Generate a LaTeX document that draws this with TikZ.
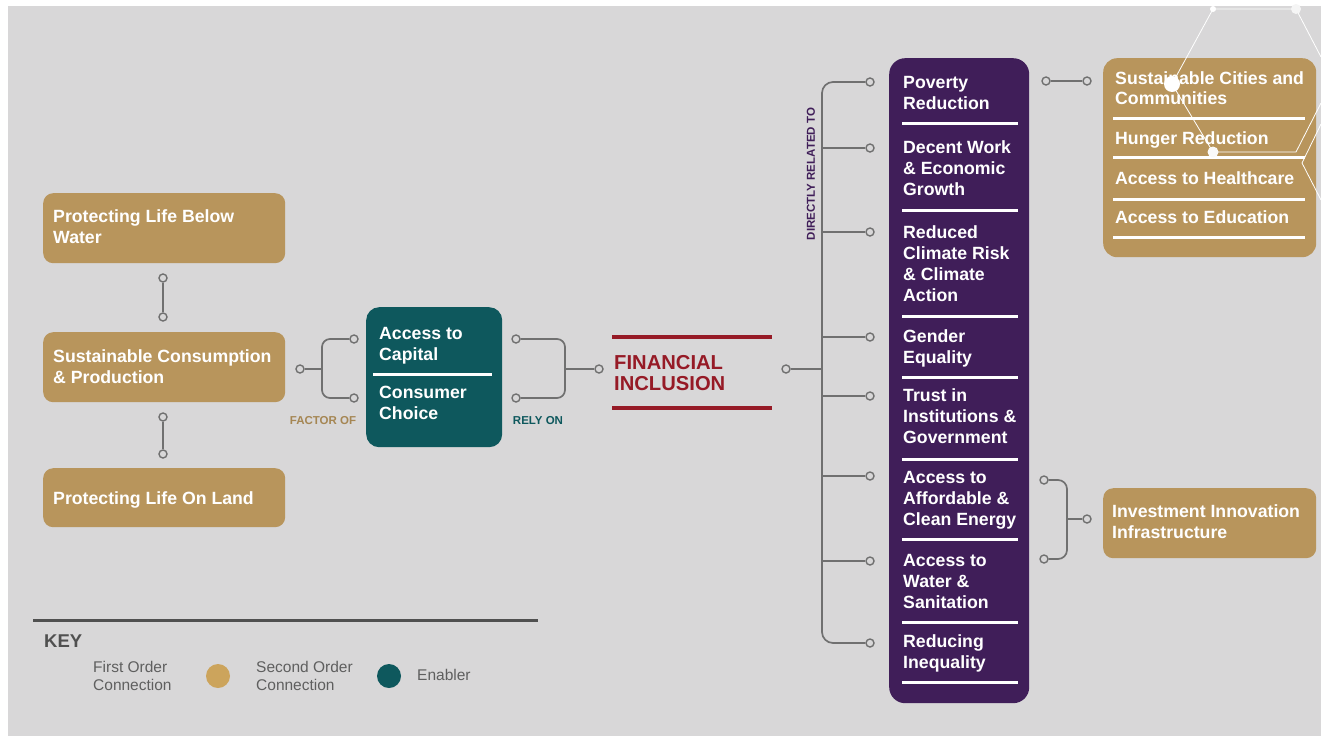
\documentclass[tikz,border=0pt]{standalone}
\usepackage{fontspec}
\setmainfont{Liberation Sans}
\definecolor{bg}{RGB}{216,215,216}
\definecolor{gold}{RGB}{184,149,92}
\definecolor{goldkey}{RGB}{204,164,92}
\definecolor{tealc}{RGB}{14,88,93}
\definecolor{purp}{RGB}{64,30,89}
\definecolor{finred}{RGB}{150,26,38}
\definecolor{conn}{RGB}{112,112,112}
\definecolor{keytxt}{RGB}{95,95,95}
\definecolor{keyline}{RGB}{80,80,80}
\tikzset{
  shapebox/.style={inner sep=0pt, anchor=north west},
  goldbox/.style={shapebox, fill=gold, rounded corners=10pt},
  boxtxt/.style={font={\bfseries\fontsize{17.7}{20.7}\selectfont}, text=white, align=left, inner sep=0pt, anchor=base west},
  dot/.style={circle, draw=conn, fill=bg, line width=1.4pt, minimum size=8pt, inner sep=0pt},
  connline/.style={draw=conn, line width=1.7pt},
  divider/.style={white, line width=3pt},
  smalllbl/.style={font={\bfseries\fontsize{11.5}{12}\selectfont}, inner sep=0pt},
  keytext/.style={font={\fontsize{15.5}{17.5}\selectfont}, text=keytxt, align=left, inner sep=0pt, anchor=base west},
  hexline/.style={white, line width=0.8pt},
}
\begin{document}
\begin{tikzpicture}[x=1pt,y=-1pt]
\useasboundingbox (0,0) rectangle (1321,736);
\fill[white] (0,0) rectangle (1321,736);
\fill[bg] (8,6) rectangle (1321,736);

% (text nodes are anchored at the baseline of their LAST line)
% ---- left gold boxes
\node[goldbox, minimum width=242pt, minimum height=70pt] (blw) at (43,193) {};
\node[boxtxt] (blwt) at (53,243) {Protecting Life Below\\Water};
\node[goldbox, minimum width=242pt, minimum height=70pt] (scp) at (43,332) {};
\node[boxtxt] (scpt) at (53,383) {Sustainable Consumption\\\& Production};
\node[goldbox, minimum width=242pt, minimum height=59pt] (lol) at (43,468) {};
\node[boxtxt] (lolt) at (53,504) {Protecting Life On Land};

\node[dot] (v1) at (163,278) {};
\node[dot] (v2) at (163,317) {};
\node[dot] (v3) at (163,417) {};
\node[dot] (v4) at (163,454) {};
\draw[connline] (v1) -- (v2);
\draw[connline] (v3) -- (v4);

% ---- factor of
\node[dot] (fl) at (300,369) {};
\node[dot] (ft) at (354,339) {};
\node[dot] (fb) at (354,398) {};
\coordinate (fj) at (322,369);
\draw[connline] (fl) -- (fj);
\draw[connline, rounded corners=8pt] (ft.west) -| (fj) |- (fb.west);
\node[smalllbl, text=gold!90!black] (factor) at (323,421) {FACTOR OF};

% ---- teal enabler box
\node[shapebox, fill=tealc, rounded corners=13pt, minimum width=136pt, minimum height=140pt] (en) at (366,307) {};
\node[boxtxt] (ent1) at (379,360) {Access to\\Capital};
\draw[divider] (373,374) -- (492,374);
\node[boxtxt] (ent2) at (379,419) {Consumer\\Choice};

% ---- rely on
\node[dot] (rt) at (516,339) {};
\node[dot] (rb) at (516,398) {};
\node[dot] (rr) at (599,369) {};
\coordinate (rj) at (565,369);
\draw[connline, rounded corners=8pt] (rt.east) -| (rj) |- (rb.east);
\draw[connline] (rj) -- (rr);
\node[smalllbl, text=tealc] (rely) at (538,421) {RELY ON};

% ---- financial inclusion
\draw[finred, line width=4pt] (612,337) -- (772,337);
\draw[finred, line width=4pt] (612,408) -- (772,408);
\node[font={\bfseries\fontsize{20.2}{20.5}\selectfont}, text=finred, align=left, inner sep=0pt, anchor=base west] (fin) at (614,390) {FINANCIAL\\INCLUSION};

% ---- trunk
\node[dot] (fi) at (786,369) {};
\coordinate (tj) at (822,369);
\draw[connline] (fi) -- (tj);
\node[dot] (p1) at (870,82) {};
\node[dot] (p2) at (870,148) {};
\node[dot] (p3) at (870,232) {};
\node[dot] (p4) at (870,337) {};
\node[dot] (p5) at (870,396) {};
\node[dot] (p6) at (870,476) {};
\node[dot] (p7) at (870,561) {};
\node[dot] (p8) at (870,643) {};
\draw[connline, rounded corners=11pt] (p1.west) -| (tj) |- (p8.west);
\foreach \p in {p2,p3,p4,p5,p6,p7} { \draw[connline] (\p.west -| tj) -- (\p.west); }
\node[smalllbl, text=purp, rotate=90] (drt) at (811,174) {DIRECTLY RELATED TO};

% ---- purple box
\node[shapebox, fill=purp, rounded corners=16pt, minimum width=140pt, minimum height=645pt] (pb) at (889,58) {};
\node[boxtxt] (q1) at (903,109) {Poverty\\Reduction};
\draw[divider] (902,123) -- (1018,123);
\node[boxtxt] (q2) at (903,195) {Decent Work\\\& Economic\\Growth};
\draw[divider] (902,210) -- (1018,210);
\node[boxtxt] (q3) at (903,301) {Reduced\\Climate Risk\\\& Climate\\Action};
\draw[divider] (902,316) -- (1018,316);
\node[boxtxt] (q4) at (903,363) {Gender\\Equality};
\draw[divider] (902,377) -- (1018,377);
\node[boxtxt] (q5) at (903,443) {Trust in\\Institutions \&\\Government};
\draw[divider] (902,459) -- (1018,459);
\node[boxtxt] (q6) at (903,525) {Access to\\Affordable \&\\Clean Energy};
\draw[divider] (902,539) -- (1018,539);
\node[boxtxt] (q7) at (903,608) {Access to\\Water \&\\Sanitation};
\draw[divider] (902,622) -- (1018,622);
\node[boxtxt] (q8) at (903,668) {Reducing\\Inequality};
\draw[divider] (902,682) -- (1018,682);

% ---- right top gold box
\node[dot] (g1) at (1046,81) {};
\node[dot] (g2) at (1087,81) {};
\draw[connline] (g1) -- (g2);
\node[goldbox, rounded corners=14pt, minimum width=213pt, minimum height=199pt] (sec) at (1103,58) {};
\node[boxtxt, font={\bfseries\fontsize{17.7}{19.5}\selectfont}] (s1) at (1115,104) {Sustainable Cities and\\Communities};
\draw[divider] (1113,118) -- (1305,118);
\node[boxtxt] (s2) at (1115,144) {Hunger Reduction};
\draw[divider] (1113,157) -- (1305,157);
\node[boxtxt] (s3) at (1115,184) {Access to Healthcare};
\draw[divider] (1113,199) -- (1305,199);
\node[boxtxt] (s4) at (1115,223) {Access to Education};
\draw[divider] (1113,237) -- (1305,237);

% ---- investment
\node[dot] (i1) at (1044,480) {};
\node[dot] (i2) at (1044,559) {};
\node[dot] (i3) at (1087,519) {};
\coordinate (ij) at (1067,519);
\draw[connline, rounded corners=9pt] (i1.east) -| (ij) |- (i2.east);
\draw[connline] (ij) -- (i3);
\node[goldbox, minimum width=213pt, minimum height=70pt] (inv) at (1103,488) {};
\node[boxtxt] (invt) at (1112,538) {Investment Innovation\\Infrastructure};

% ---- key
\draw[keyline, line width=3pt] (33,620) -- (538,620);
\node[font={\bfseries\fontsize{18.5}{20}\selectfont}, text=keyline, inner sep=0pt, anchor=base west] (key) at (44,647) {KEY};
\node[keytext] (k1) at (93,690) {First Order\\Connection};
\node[circle, fill=goldkey, minimum size=24pt, inner sep=0pt] (kc1) at (218,676) {};
\node[keytext] (k2) at (256,690) {Second Order\\Connection};
\node[circle, fill=tealc, minimum size=24pt, inner sep=0pt] (kc2) at (389,676) {};
\node[keytext] (k3) at (417,680) {Enabler};

% ---- decorative hexagon network
\draw[hexline] (1213,9) -- (1296,9) -- (1321,57);
\draw[hexline] (1213,9) -- (1172,84) -- (1213,152) -- (1296,152) -- (1321,103);
\draw[hexline] (1321,124) -- (1302,163) -- (1321,200);
\fill[white] (1213,9) circle (3pt);
\fill[white!92!gray] (1296,9) circle (5pt);
\fill[white] (1172,84) circle (8pt);
\fill[white!95!gray] (1213,152) circle (5.5pt);
\end{tikzpicture}
\end{document}
